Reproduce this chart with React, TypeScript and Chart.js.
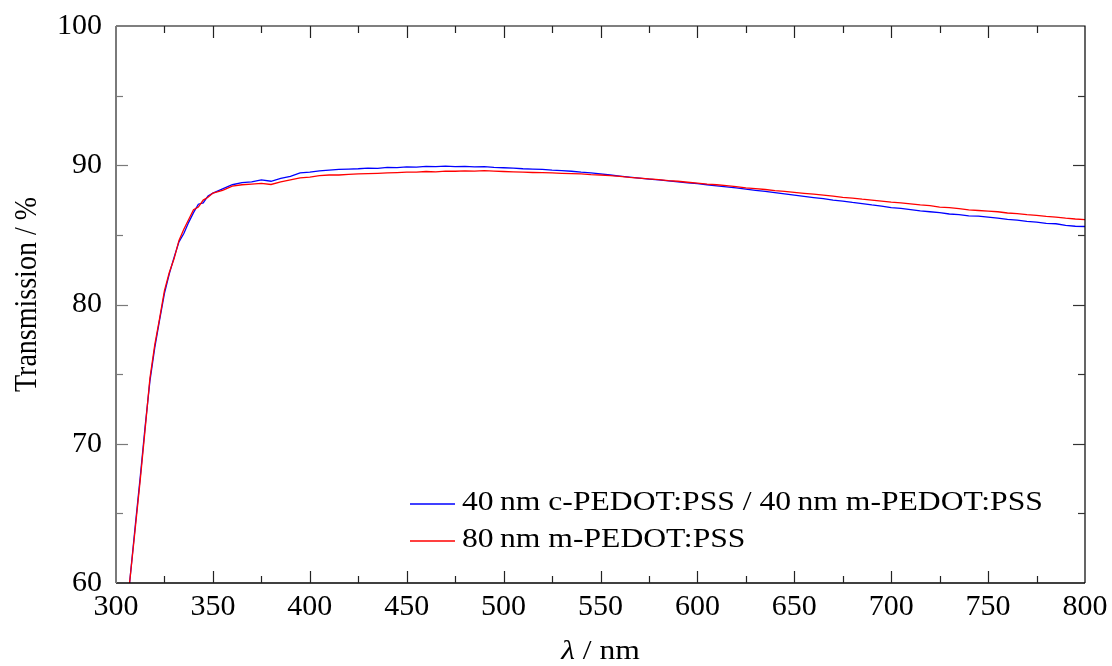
import React, { useEffect, useRef } from "react";
import { Chart, registerables } from "chart.js";

Chart.register(...registerables);

// ---- data ----
const wavelengths = [
  307, 310, 312.5, 315, 317.5, 320, 322.5, 325, 327.5, 330, 332.5, 335, 337.5, 340, 342.5, 345, 347.5, 350,
  355, 360, 365, 370, 375, 380, 385, 390, 395, 400, 405, 410, 415, 420, 425, 430, 435, 440, 445, 450,
  455, 460, 465, 470, 475, 480, 485, 490, 495, 500, 505, 510, 515, 520, 525, 530, 535, 540, 545, 550,
  555, 560, 565, 570, 575, 580, 585, 590, 595, 600, 605, 610, 615, 620, 625, 630, 635, 640, 645, 650,
  655, 660, 665, 670, 675, 680, 685, 690, 695, 700, 705, 710, 715, 720, 725, 730, 735, 740, 745, 750,
  755, 760, 765, 770, 775, 780, 785, 790, 795, 800,
];

const bilayer40 = [
  60.0, 64.2, 67.6, 71.2, 74.5, 76.9, 78.9, 80.8, 82.2, 83.4, 84.5, 85.1, 85.9, 86.6, 87.2, 87.3, 87.8, 88.0,
  88.3, 88.6, 88.75, 88.8, 88.95, 88.85, 89.05, 89.2, 89.45, 89.5, 89.6, 89.65, 89.7, 89.72, 89.75, 89.8, 89.78, 89.85, 89.83, 89.88,
  89.86, 89.92, 89.9, 89.93, 89.9, 89.92, 89.88, 89.9, 89.85, 89.82, 89.8, 89.75, 89.72, 89.7, 89.65, 89.62, 89.57, 89.5, 89.45, 89.38,
  89.3, 89.22, 89.15, 89.07, 89.0, 88.95, 88.88, 88.8, 88.74, 88.68, 88.6, 88.52, 88.45, 88.37, 88.28, 88.2, 88.12, 88.03, 87.94, 87.85,
  87.77, 87.68, 87.6, 87.5, 87.43, 87.33, 87.25, 87.15, 87.07, 86.95, 86.9, 86.82, 86.73, 86.66, 86.6, 86.5, 86.45, 86.37, 86.34, 86.28,
  86.2, 86.12, 86.06, 85.97, 85.92, 85.83, 85.8, 85.68, 85.62, 85.6,
];

const mono80 = [
  60.0, 64.0, 67.4, 71.0, 74.7, 77.1, 79.0, 81.0, 82.3, 83.3, 84.6, 85.4, 86.1, 86.8, 87.0, 87.5, 87.7, 88.0,
  88.2, 88.5, 88.6, 88.65, 88.7, 88.62, 88.8, 88.95, 89.1, 89.15, 89.25, 89.3, 89.3, 89.35, 89.38, 89.4, 89.42, 89.45, 89.47, 89.5,
  89.5, 89.55, 89.53, 89.58, 89.57, 89.6, 89.58, 89.62, 89.58, 89.55, 89.52, 89.5, 89.48, 89.47, 89.45, 89.42, 89.4, 89.38, 89.33, 89.3,
  89.25, 89.2, 89.13, 89.08, 89.02, 88.97, 88.9, 88.85, 88.78, 88.72, 88.65, 88.6, 88.53, 88.46, 88.38, 88.32, 88.26, 88.18, 88.12, 88.05,
  87.98, 87.92, 87.85, 87.78, 87.7, 87.64, 87.56, 87.5, 87.42, 87.35, 87.3, 87.22, 87.15, 87.1, 87.0, 86.96, 86.88, 86.8, 86.75, 86.7,
  86.66, 86.57, 86.52, 86.45, 86.4, 86.33, 86.28, 86.2, 86.14, 86.1,
];

const seriesLabels = [
  "40\u2009nm c-PEDOT:PSS / 40\u2009nm m-PEDOT:PSS",
  "80\u2009nm m-PEDOT:PSS",
];
const seriesColors = ["#0000ff", "#ff0000"];
const xTitleItalic = "\u03bb";
const xTitleRest = " / nm";
const yTitle = "Transmission / %";

const SERIF = '"Liberation Serif", Tinos, "Times New Roman", serif';
const STRETCH = 1.13;

const framePlugin = {
  id: "framePlugin",
  afterDraw(chart: any) {
    const { ctx, chartArea } = chart;
    const { left, right, top, bottom } = chartArea;
    const xs = chart.scales.x;
    const ys = chart.scales.y;
    ctx.save();
    // frame
    ctx.lineCap = "butt";
    ctx.strokeStyle = "#000";
    ctx.lineWidth = 1.2;
    ctx.beginPath();
    ctx.moveTo(left, top);
    ctx.lineTo(right, top);
    ctx.lineTo(right, bottom);
    ctx.stroke();
    ctx.lineWidth = 1.6;
    ctx.beginPath();
    ctx.moveTo(left, bottom);
    ctx.lineTo(right, bottom);
    ctx.stroke();
    ctx.strokeStyle = "#7a7a7a";
    ctx.lineWidth = 2;
    ctx.beginPath();
    ctx.moveTo(left, top);
    ctx.lineTo(left, bottom);
    ctx.stroke();

    // x ticks (inward, bottom and top)
    for (let v = 325; v < 800; v += 25) {
      const px = Math.round(xs.getPixelForValue(v)) + 0.5;
      const len = v % 50 === 0 ? 12 : 7;
      ctx.strokeStyle = "#222";
      ctx.lineWidth = 1.2;
      ctx.beginPath();
      ctx.moveTo(px, bottom);
      ctx.lineTo(px, bottom - len);
      ctx.moveTo(px, top);
      ctx.lineTo(px, top + len);
      ctx.stroke();
    }
    // y ticks (inward, left and right)
    for (let v = 65; v < 100; v += 5) {
      const py = Math.round(ys.getPixelForValue(v)) + 0.5;
      const len = v % 10 === 0 ? 12 : 7;
      ctx.lineWidth = 1.2;
      ctx.strokeStyle = "#7a7a7a";
      ctx.beginPath();
      ctx.moveTo(left, py);
      ctx.lineTo(left + len, py);
      ctx.stroke();
      ctx.strokeStyle = "#333";
      ctx.beginPath();
      ctx.moveTo(right, py);
      ctx.lineTo(right - len, py);
      ctx.stroke();
    }

    ctx.fillStyle = "#000";
    // legend
    const legX = left + 294;
    const legY = [top + 478, top + 515];
    for (let i = 0; i < seriesLabels.length; i++) {
      ctx.strokeStyle = seriesColors[i];
      ctx.lineWidth = 1.5;
      ctx.beginPath();
      ctx.moveTo(legX, legY[i]);
      ctx.lineTo(legX + 45, legY[i]);
      ctx.stroke();
      ctx.save();
      ctx.translate(legX + 52, legY[i] - 1);
      ctx.scale(STRETCH, 1);
      ctx.font = `28px ${SERIF}`;
      ctx.textAlign = "left";
      ctx.textBaseline = "middle";
      ctx.fillText(seriesLabels[i], 0, 0);
      ctx.restore();
    }

    // x title
    ctx.save();
    ctx.font = `italic 28px ${SERIF}`;
    const w1 = ctx.measureText(xTitleItalic).width;
    ctx.font = `28px ${SERIF}`;
    const w2 = ctx.measureText(xTitleRest).width;
    const cx = (left + right) / 2;
    ctx.translate(cx - ((w1 + w2) * STRETCH) / 2, 659);
    ctx.scale(STRETCH, 1);
    ctx.textAlign = "left";
    ctx.textBaseline = "alphabetic";
    ctx.font = `italic 28px ${SERIF}`;
    ctx.fillText(xTitleItalic, 0, 0);
    ctx.font = `28px ${SERIF}`;
    ctx.fillText(xTitleRest, w1, 0);
    ctx.restore();

    // y title
    ctx.save();
    ctx.translate(36, (top + bottom) / 2 - 10);
    ctx.scale(STRETCH, 1);
    ctx.rotate(-Math.PI / 2);
    ctx.font = `28px ${SERIF}`;
    ctx.textAlign = "center";
    ctx.textBaseline = "alphabetic";
    ctx.fillText(yTitle, 0, 0);
    ctx.restore();

    ctx.restore();
  },
};

export default function App() {
  const canvasRef = useRef<HTMLCanvasElement | null>(null);

  useEffect(() => {
    if (!canvasRef.current) return;
    const chart = new Chart(canvasRef.current, {
      type: "line",
      data: {
        datasets: [
          {
            label: seriesLabels[0],
            data: wavelengths.map((x, i) => ({ x, y: bilayer40[i] })),
            borderColor: seriesColors[0],
            borderWidth: 1.3,
            pointRadius: 0,
            tension: 0,
            order: 2,
          },
          {
            label: seriesLabels[1],
            data: wavelengths.map((x, i) => ({ x, y: mono80[i] })),
            borderColor: seriesColors[1],
            borderWidth: 1.3,
            pointRadius: 0,
            tension: 0,
            order: 1,
          },
        ],
      },
      options: {
        responsive: false,
        animation: false,
        layout: { padding: { top: 26, right: 27, left: 0, bottom: 0 } },
        plugins: {
          legend: { display: false },
          tooltip: { enabled: false },
        },
        scales: {
          x: {
            type: "linear",
            min: 300,
            max: 800,
            ticks: {
              stepSize: 50,
              autoSkip: false,
              maxRotation: 0,
              padding: 6,
              color: "#000",
              font: { family: SERIF, size: 30 },
            },
            grid: { display: false, drawTicks: false },
            border: { display: false },
            afterFit: (s: any) => {
              s.height = 83;
              s.paddingLeft = 0;
              s.paddingRight = 0;
            },
          },
          y: {
            type: "linear",
            min: 60,
            max: 100,
            ticks: {
              stepSize: 10,
              padding: 14,
              color: "#000",
              font: { family: SERIF, size: 30 },
            },
            grid: { display: false, drawTicks: false },
            border: { display: false },
            afterFit: (s: any) => {
              s.width = 116;
              s.paddingTop = 0;
              s.paddingBottom = 0;
            },
          },
        },
      },
      plugins: [framePlugin],
    });
    let alive = true;
    const fonts: any = (document as any).fonts;
    if (fonts && fonts.load) {
      Promise.all([
        fonts.load(`30px ${SERIF}`, "0123456789"),
        fonts.load(`italic 28px ${SERIF}`, "\u03bb"),
      ])
        .then(() => {
          if (alive) chart.update();
        })
        .catch(() => {});
    }
    return () => {
      alive = false;
      chart.destroy();
    };
  }, []);

  return (
    <div style={{ position: "absolute", left: 0, top: 0, width: 1112, height: 666, background: "#fff" }}>
      <span style={{ position: "absolute", left: -9999, fontFamily: SERIF, fontSize: 28 }}>
        Transmission <i>{"\u03bb"}</i>
      </span>
      <canvas ref={canvasRef} width={1112} height={666} style={{ display: "block" }} />
    </div>
  );
}
